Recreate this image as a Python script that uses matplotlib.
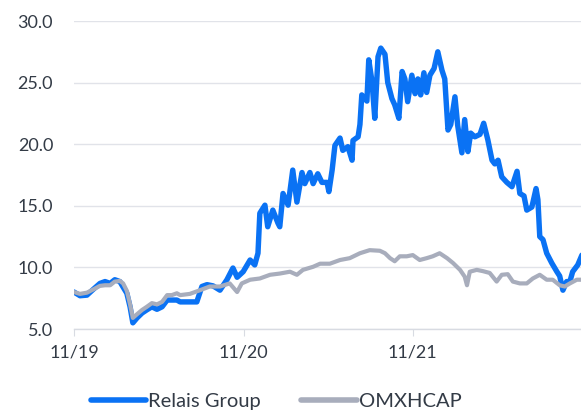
import matplotlib
matplotlib.use("Agg")
import matplotlib.pyplot as plt
import pandas as pd

plt.rcParams['font.family'] = ['Lato', 'DejaVu Sans']

start = pd.Timestamp('2019-11-01')

relais_days = [0, 13, 28, 41, 56, 67, 78, 88, 99, 106, 114, 121, 127, 136, 147, 157, 168, 179, 190, 201,
               211, 222, 229, 250, 265, 276, 287, 300, 315, 330, 343, 352, 365, 380, 390, 397, 401, 412,
               418, 429, 440, 444, 451, 462, 472, 481, 492, 498, 509, 516, 526, 535, 546, 550, 557, 563,
               574, 580, 591, 600, 602, 613, 617, 621, 632, 636, 643, 649, 656, 662, 671, 677, 686, 692,
               701, 708, 714, 720, 729, 736, 742, 748, 755, 761, 768, 777, 785, 794, 800, 807, 813, 822,
               828, 837, 843, 850, 856, 865, 876, 884, 893, 902, 908, 915, 923, 934, 945, 956, 962, 971,
               977, 988, 997, 1001, 1005, 1012, 1020, 1031, 1042, 1048, 1055, 1063, 1070, 1076, 1087, 1096]
relais_values = [8.0, 7.7, 7.75, 8.2, 8.7, 8.85, 8.7, 9.0, 8.85, 8.4, 7.9, 6.8, 5.5, 5.9, 6.3, 6.55, 6.8, 6.6, 6.8, 7.35,
                 7.35, 7.35, 7.2, 7.2, 7.2, 8.45, 8.6, 8.5, 8.15, 9.0, 9.95, 9.2, 9.65, 10.6, 10.2, 11.15, 14.4, 15.05,
                 13.3, 14.65, 13.6, 13.3, 16.0, 15.05, 17.9, 15.3, 17.7, 16.8, 17.7, 16.8, 17.6, 16.9, 16.9, 16.15, 17.9, 19.9,
                 20.5, 19.5, 19.8, 18.7, 20.3, 20.6, 21.6, 24.0, 23.5, 26.85, 25.1, 22.1, 27.1, 27.8, 27.3, 25.0, 23.7, 23.2,
                 22.1, 25.9, 25.3, 23.45, 25.6, 24.1, 25.3, 24.0, 25.8, 24.2, 25.6, 26.15, 27.5, 26.0, 25.3, 21.15, 21.6, 23.85,
                 21.5, 19.3, 22.0, 19.4, 20.9, 20.6, 20.8, 21.7, 20.35, 18.7, 18.4, 18.7, 17.35, 16.9, 16.55, 17.8, 16.0, 15.8,
                 14.65, 14.9, 16.4, 15.5, 12.5, 12.25, 11.15, 10.35, 9.65, 9.3, 8.15, 8.85, 8.85, 9.65, 10.2, 11.0]

omx_days = [0, 13, 28, 41, 56, 67, 78, 88, 99, 106, 114, 121, 127, 136, 147, 157, 168, 179, 190, 201,
            211, 222, 229, 250, 272, 293, 315, 336, 352, 362, 380, 401, 423, 444, 466, 481, 494, 516, 531,
            552, 574, 595, 617, 638, 660, 671, 682, 692, 703, 718, 731, 746, 761, 774, 789, 805, 818, 833,
            843, 848, 854, 869, 882, 897, 912, 923, 936, 947, 962, 977, 990, 1005, 1020, 1033, 1048, 1059,
            1070, 1085, 1096]
omx_values = [8.0, 7.85, 7.95, 8.2, 8.5, 8.55, 8.55, 8.85, 8.9, 8.7, 8.1, 7.0, 5.9, 6.2, 6.55, 6.8, 7.1, 7.0, 7.2, 7.75,
              7.75, 7.9, 7.75, 7.85, 8.15, 8.45, 8.45, 8.7, 8.0, 8.7, 9.0, 9.1, 9.4, 9.5, 9.65, 9.4, 9.8, 10.05, 10.3,
              10.3, 10.6, 10.75, 11.15, 11.4, 11.35, 11.15, 10.75, 10.5, 10.9, 10.9, 11.0, 10.6, 10.75, 10.9, 11.15, 10.75, 10.35, 9.8,
              9.25, 8.55, 9.65, 9.8, 9.7, 9.55, 8.85, 9.4, 9.45, 8.85, 8.7, 8.7, 9.1, 9.4, 9.0, 9.0, 8.55, 8.45,
              8.7, 9.0, 9.0]

tick_dates = ['2019-11-01', '2020-11-01', '2021-11-01']
tick_labels = ['11/19', '11/20', '11/21']
y_ticks = [5, 10, 15, 20, 25, 30]

relais_dates = start + pd.to_timedelta(relais_days, unit='D')
omx_dates = start + pd.to_timedelta(omx_days, unit='D')

fig = plt.figure(figsize=(5.81, 4.13), dpi=100)
ax = fig.add_axes([74/581, 1-329/413, 1-74/581, (329-21)/413])

blue = '#0a72f4'
gray = '#a8adbc'
ax.plot(relais_dates, relais_values, color=blue, lw=3.9, solid_capstyle='round', solid_joinstyle='round',
        label='Relais Group', zorder=3)
ax.plot(omx_dates, omx_values, color=gray, lw=3.0, solid_capstyle='round', solid_joinstyle='round',
        label='OMXHCAP', zorder=4)

ax.set_ylim(5, 30)
ax.set_xlim(start, start + pd.Timedelta(days=1094))
ax.set_yticks(y_ticks)
ax.set_yticklabels([f'{v:.1f}' for v in y_ticks])
ax.set_xticks(pd.to_datetime(tick_dates))
ax.set_xticklabels(tick_labels)

for s in ['top', 'right', 'left']:
    ax.spines[s].set_visible(False)
ax.spines['bottom'].set_color('#d8dbe2')
ax.spines['bottom'].set_linewidth(1.0)
ax.grid(axis='y', color='#e1e3e9', lw=1.0)
ax.set_axisbelow(True)
ax.tick_params(axis='y', length=0, pad=15, labelsize=13, labelcolor='#333b46')
ax.tick_params(axis='x', length=5, color='#d8dbe2', pad=6, labelsize=13, labelcolor='#333b46')

leg = fig.legend(loc='center', bbox_to_anchor=(276/581, 0.027), ncol=2, frameon=False,
                 fontsize=14.5, handlelength=2.75, handletextpad=0.1, columnspacing=2.0,
                 labelcolor='#333b46', borderpad=0)
for h in leg.get_lines():
    h.set_linewidth(4.0)
    h.set_solid_capstyle('round')

fig.savefig('out.png', dpi=100)
